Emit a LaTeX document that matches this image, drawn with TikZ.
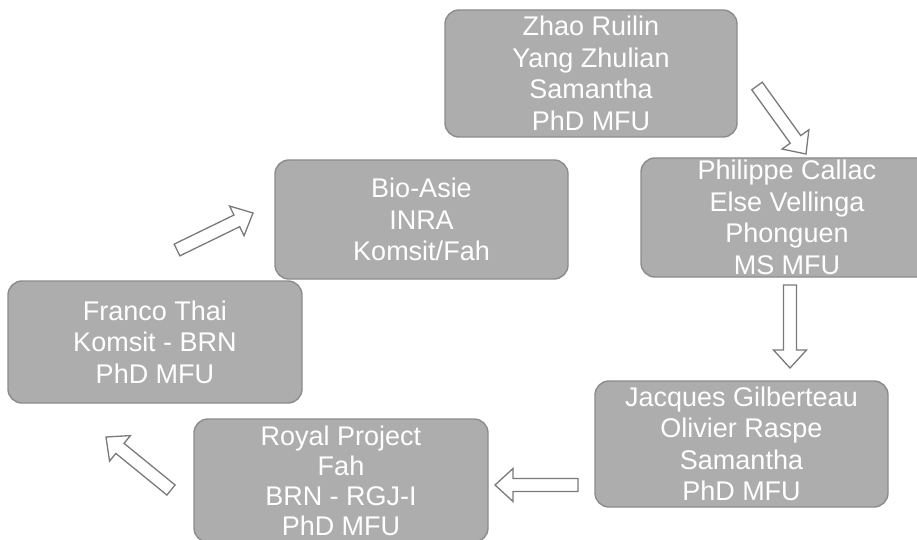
\documentclass[tikz,border=0pt]{standalone}
\usepackage{fontspec}
\setmainfont{Liberation Sans}
\usetikzlibrary{calc}
\definecolor{boxfill}{HTML}{ADADAD}
\definecolor{boxline}{HTML}{8C8C8C}
\definecolor{arrline}{HTML}{7A7A7A}
\tikzset{
  card/.style={draw=boxline, line width=1.4pt, fill=boxfill, rounded corners=14pt,
    inner sep=0pt, align=center, text=white,
    font=\fontsize{27}{31.5}\selectfont},
  arrline/.style={draw=arrline, line width=1.3pt, fill=white, line join=miter}
}
\newcommand\hollowarrow[2]{%
  \coordinate (#1h) at ($(#2)!18pt!(#1)$);
  \draw[arrline] ($(#1)!6.5pt!90:(#2)$) -- ($(#1h)!6.5pt!90:(#2)$)
    -- ($(#1h)!16.5pt!90:(#2)$) -- (#2) -- ($(#1h)!16.5pt!-90:(#2)$)
    -- ($(#1h)!6.5pt!-90:(#2)$) -- ($(#1)!6.5pt!-90:(#2)$) -- cycle;}
\begin{document}
\begin{tikzpicture}[x=1pt,y=-1pt]
\useasboundingbox (0,0) rectangle (917,540);
\clip (0,0) rectangle (917,540);
\fill[white] (0,0) rectangle (917,540);
% boxes
\node[card, minimum width=292pt, minimum height=127pt] (zhao) at (591,73.5)
  {Zhao Ruilin\\Yang Zhulian\\Samantha\\PhD MFU};
\node[card, minimum width=292pt, minimum height=119pt] (callac) at (787,217.5)
  {Philippe Callac\\Else Vellinga\\Phonguen\\MS MFU};
\node[card, minimum width=293pt, minimum height=126pt] (gilberteau) at (741.5,444)
  {Jacques Gilberteau\\Olivier Raspe\\Samantha\\PhD MFU};
\node[card, minimum width=294pt, minimum height=123pt, font=\fontsize{27}{30}\selectfont] (royal) at (341,480.5)
  {Royal Project\\Fah\\BRN - RGJ-I\\PhD MFU};
\node[card, minimum width=294pt, minimum height=122pt] (franco) at (155,342)
  {Franco Thai\\Komsit - BRN\\PhD MFU};
\node[card, minimum width=293pt, minimum height=119pt] (bioasie) at (421.5,219.5)
  {Bio-Asie\\INRA\\Komsit/Fah};
% arrow end points
\coordinate (a1t) at (757,86);  \coordinate (a1p) at (806,154);
\coordinate (a2t) at (790,285); \coordinate (a2p) at (790,368);
\coordinate (a3t) at (578,485); \coordinate (a3p) at (495,485);
\coordinate (a4t) at (171,490); \coordinate (a4p) at (106,437);
\coordinate (a5t) at (177,250); \coordinate (a5p) at (253,213);
\hollowarrow{a1t}{a1p}
\hollowarrow{a2t}{a2p}
\hollowarrow{a3t}{a3p}
\hollowarrow{a4t}{a4p}
\hollowarrow{a5t}{a5p}
\end{tikzpicture}
\end{document}
